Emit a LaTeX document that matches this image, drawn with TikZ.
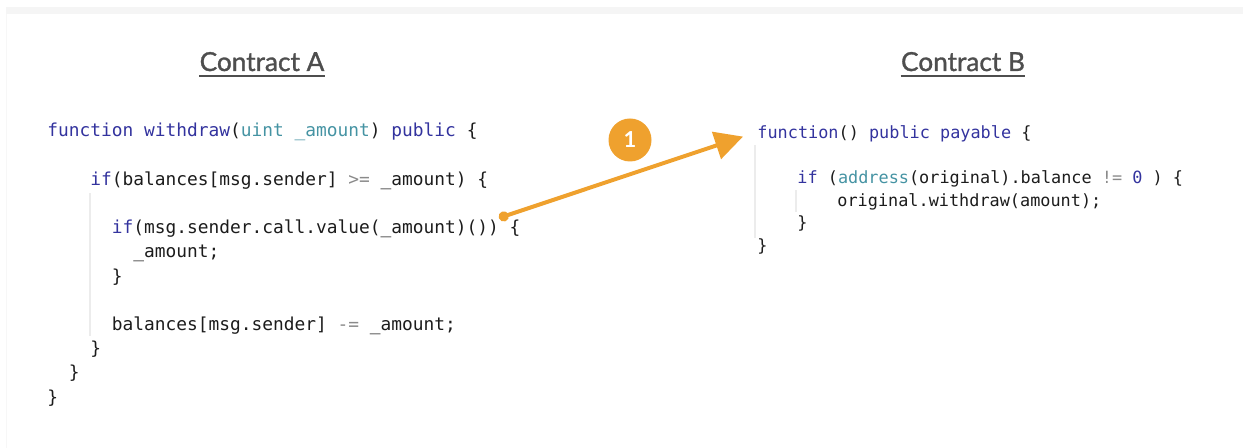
\documentclass[tikz,border=0pt]{standalone}
\usepackage{fontspec}
\setmainfont{Lato}
\setmonofont{DejaVu Sans Mono}
\newfontfamily\ttlfont{Lato}[FakeBold=1.2]
\usetikzlibrary{arrows.meta}
\definecolor{kwblue}{HTML}{33339E}
\definecolor{tyteal}{HTML}{4593A3}
\definecolor{opgrey}{HTML}{8A8A8A}
\definecolor{codeblk}{HTML}{1C1C1C}
\definecolor{ttl}{HTML}{4E4E4E}
\definecolor{callor}{HTML}{EFA12E}
\definecolor{guidegr}{HTML}{ECECEC}
\newcommand{\kw}[1]{\textcolor{kwblue}{#1}}
\newcommand{\ty}[1]{\textcolor{tyteal}{#1}}
\newcommand{\opr}[1]{\textcolor{opgrey}{#1}}
\tikzset{
  title/.style={anchor=base, inner sep=0pt, text=ttl, font=\ttlfont\fontsize{13.1}{15}\selectfont},
  uline/.style={draw=ttl, line width=0.8pt},
  codeA/.style={anchor=base west, inner sep=0pt, text=codeblk, font=\ttfamily\fontsize{8.93}{10}\selectfont},
  codeB/.style={codeA, font=\ttfamily\fontsize{8.43}{10}\selectfont},
  guide/.style={draw=guidegr, line width=0.6pt},
  badge/.style={circle, fill=callor, text=white, minimum size=21.5pt, inner sep=0pt,
                font=\bfseries\fontsize{11}{11}\selectfont},
  callarrow/.style={draw=callor, line width=2pt, {Circle[length=5pt]}-{Triangle[length=14pt,width=14pt]}},
}

\begin{document}
\begin{tikzpicture}[x=0.5pt, y=-0.5pt]
  \useasboundingbox (0,0) rectangle (1243,448);
  \fill[black!4] (6,7) rectangle (1243,14);
  \draw[black!3, line width=0.6pt] (6.5,14) -- (6.5,448);

  % titles
  \node[title] (ta) at (262,71) {Contract A};
  \node[title] (tb) at (963,71) {Contract B};
  \draw[uline] ([yshift=-2.4pt]ta.base west) -- ([yshift=-2.4pt]ta.base east);
  \draw[uline] ([yshift=-2.4pt]tb.base west) -- ([yshift=-2.4pt]tb.base east);

  % contract A
  \draw[guide] (90,193) -- (90,336);
  \node[codeA] (a1) at (47,137) {\kw{function withdraw}(\ty{uint \_amount}) \kw{public} \{};
  \node[codeA] (a2) at (90,185.4) {\kw{if}(balances[msg.sender] \opr{>=} \_amount) \{};
  \node[codeA] (a3) at (111.5,233.8) {\kw{if}(msg.sender.call.value(\_amount)()) \{};
  \node[codeA] (a4) at (133,258) {\_amount;};
  \node[codeA] (a5) at (111.5,282.2) {\}};
  \node[codeA] (a6) at (111.5,330.6) {balances[msg.sender] \opr{-=} \_amount;};
  \node[codeA] (a7) at (90,354.8) {\}};
  \node[codeA] (a8) at (68.5,379) {\}};
  \node[codeA] (a9) at (47,403.2) {\}};

  % contract B
  \draw[guide] (755,145) -- (755,238);
  \draw[guide] (796,190) -- (796,212);
  \node[codeB] (b1) at (757,138.3) {\kw{function}() \kw{public payable} \{};
  \node[codeB] (b2) at (797,183.5) {\kw{if} (\ty{address}(original).balance \opr{!=} \kw{0} ) \{};
  \node[codeB] (b3) at (837,206.1) {original.withdraw(amount);};
  \node[codeB] (b4) at (797,228.7) {\}};
  \node[codeB] (b5) at (757,251.3) {\}};

  % call from A into B
  \coordinate (call) at (499,218);
  \node[badge] (one) at (630,140) {1};
  \draw[callarrow] (call) -- ([shift={(-14,3)}]b1.west);
\end{tikzpicture}
\end{document}
